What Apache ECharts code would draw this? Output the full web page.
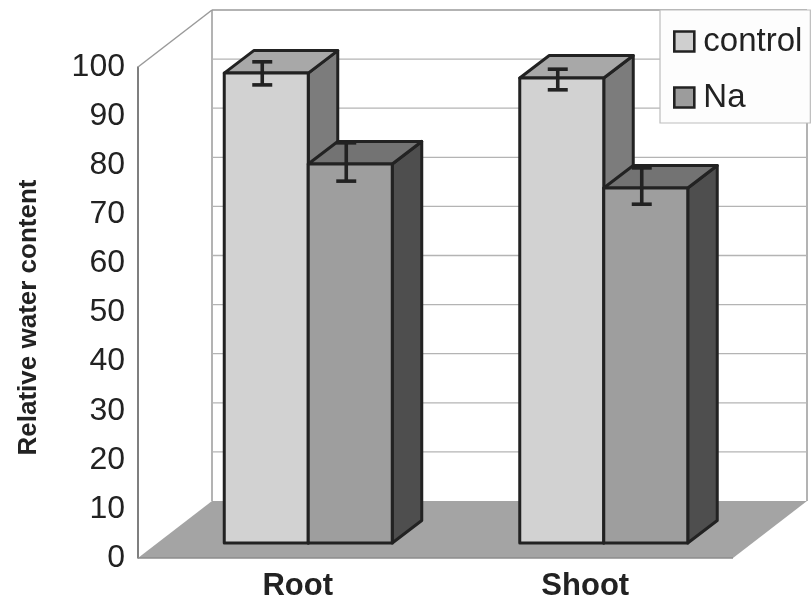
<!DOCTYPE html>
<html><head><meta charset="utf-8">
<style>html,body{margin:0;padding:0;background:#fff}#c{width:811px;height:605px}</style>
<script src="https://cdn.jsdelivr.net/npm/echarts@6/dist/echarts.min.js"></script>
</head><body><div id="c"></div>
<script>
const categories = ['Root', 'Shoot'];
const yTicks = [10, 20, 30, 40, 50, 60, 70, 80, 90];
const controlValues = [95.7, 94.7];
const controlErrLow = [93.3, 92.3];
const controlErrHigh = [98, 96.5];
const naValues = [77.2, 72.3];
const naErrLow = [73.7, 69];
const naErrHigh = [81.5, 76.4];

const WALL = {dx: 74, dy: -57, extra: 4};
const FRONT = {dx: 22.5, dy: -15};
const DEPTH = {dx: 29.5, dy: -22.5};
const BAR_W = 84;
const INK = '#222';

function wallItem(params, api) {
  const g = params.coordSys;
  const left = g.x, right = g.x + g.width + WALL.extra, top = g.y, bottom = g.y + g.height;
  const edge = {stroke: '#9a9a9a', lineWidth: 1.5, fill: null};
  const line = (x1, y1, x2, y2, st) => ({type: 'line', shape: {x1, y1, x2, y2}, style: st || edge});
  const children = [
    {type: 'polygon', shape: {points: [[left, bottom], [left + WALL.dx, bottom + WALL.dy], [right + WALL.dx, bottom + WALL.dy], [right, bottom]]},
      style: {fill: '#a4a4a4'}},
    line(left, top, left + WALL.dx, top + WALL.dy),
    line(left + WALL.dx, top + WALL.dy, right + WALL.dx, top + WALL.dy),
    line(left + WALL.dx, top + WALL.dy, left + WALL.dx, bottom + WALL.dy),
    line(right + WALL.dx, top + WALL.dy, right + WALL.dx, bottom + WALL.dy),
    line(left, bottom, right, bottom, {stroke: '#8c8c8c', lineWidth: 1.5})
  ];
  yTicks.forEach(v => {
    const y = api.coord([0, v])[1] + WALL.dy;
    children.push(line(left + WALL.dx, y, right + WALL.dx, y, {stroke: '#b4b4b4', lineWidth: 1.3}));
  });
  return {type: 'group', silent: true, children};
}

function barItem(shift, front, topC, side) {
  return function (params, api) {
    const c = api.coord([api.value(0), api.value(1)]);
    const base = api.coord([api.value(0), 0]);
    const xl = c[0] + FRONT.dx + shift * BAR_W;
    const xr = xl + BAR_W;
    const yt = c[1] + FRONT.dy;
    const yb = base[1] + FRONT.dy;
    const st = f => ({fill: f, stroke: INK, lineWidth: 3, lineJoin: 'round'});
    const d = DEPTH;
    const ex = (xl + xr) / 2 - 4;
    const yLow = api.coord([0, api.value(2)])[1] + FRONT.dy;
    const yHigh = api.coord([0, api.value(3)])[1] + FRONT.dy;
    const err = {stroke: INK, lineWidth: 3.6};
    return {type: 'group', children: [
      {type: 'polygon', shape: {points: [[xr, yt], [xr + d.dx, yt + d.dy], [xr + d.dx, yb + d.dy], [xr, yb]]}, style: st(side)},
      {type: 'polygon', shape: {points: [[xl, yt], [xl + d.dx, yt + d.dy], [xr + d.dx, yt + d.dy], [xr, yt]]}, style: st(topC)},
      {type: 'rect', shape: {x: xl, y: yt, width: BAR_W, height: yb - yt}, style: st(front)},
      {type: 'line', shape: {x1: ex, y1: yHigh, x2: ex, y2: yLow}, style: err},
      {type: 'line', shape: {x1: ex - 10, y1: yHigh, x2: ex + 10, y2: yHigh}, style: err},
      {type: 'line', shape: {x1: ex - 10, y1: yLow, x2: ex + 10, y2: yLow}, style: err}
    ]};
  };
}

const rows = (vals, lo, hi) => vals.map((v, i) => [i, v, lo[i], hi[i]]);
const chart = echarts.init(document.getElementById('c'), null, {renderer: 'canvas'});
chart.setOption({
  animation: false,
  backgroundColor: '#fff',
  textStyle: {fontFamily: '"Liberation Sans", Arial, sans-serif'},
  grid: {left: 138, top: 67, width: 591, height: 491},
  legend: {
    orient: 'vertical', left: 660, top: 10,
    padding: [15, 8, 9, 13], itemGap: 23, itemWidth: 20, itemHeight: 20,
    backgroundColor: '#fdfdfd', borderColor: '#bdbdbd', borderWidth: 1.2,
    textStyle: {fontSize: 33, color: '#222', padding: [0, 0, 0, 4]},
    data: [
      {name: 'control', icon: 'rect', itemStyle: {color: '#cfcfcf', borderColor: INK, borderWidth: 2.6}},
      {name: 'Na', icon: 'rect', itemStyle: {color: '#9c9c9c', borderColor: INK, borderWidth: 2.6}}
    ]
  },
  xAxis: {
    type: 'category',
    data: [
      {value: categories[0], textStyle: {padding: [0, 0, 0, 24]}},
      {value: categories[1], textStyle: {padding: [0, 0, 0, 8]}}
    ],
    axisLine: {show: false}, axisTick: {show: false},
    axisLabel: {fontSize: 31, fontWeight: 'bold', color: '#222', margin: 13}
  },
  yAxis: {
    type: 'value', min: 0, max: 100, interval: 10,
    name: 'Relative water content', nameLocation: 'middle', nameGap: 96, nameRotate: 90,
    nameTextStyle: {fontSize: 26, fontWeight: 'bold', color: '#222', padding: [0, 10, 0, 0]},
    splitLine: {show: false}, axisTick: {show: false},
    axisLine: {show: true, lineStyle: {color: '#555', width: 1.5}},
    axisLabel: {fontSize: 32, color: '#222', margin: 13, padding: [0, 0, 5, 0]}
  },
  series: [
    {type: 'custom', name: 'walls', z: 1, silent: true, renderItem: wallItem, data: [[0, 0]], encode: {x: 0, y: 1}},
    {type: 'custom', name: 'control', z: 2, renderItem: barItem(-1, '#d2d2d2', '#a8a8a8', '#7c7c7c'),
      itemStyle: {color: '#cfcfcf'}, data: rows(controlValues, controlErrLow, controlErrHigh), encode: {x: 0, y: 1}},
    {type: 'custom', name: 'Na', z: 3, renderItem: barItem(0, '#9e9e9e', '#737373', '#4e4e4e'),
      itemStyle: {color: '#9c9c9c'}, data: rows(naValues, naErrLow, naErrHigh), encode: {x: 0, y: 1}}
  ]
});
</script></body></html>
